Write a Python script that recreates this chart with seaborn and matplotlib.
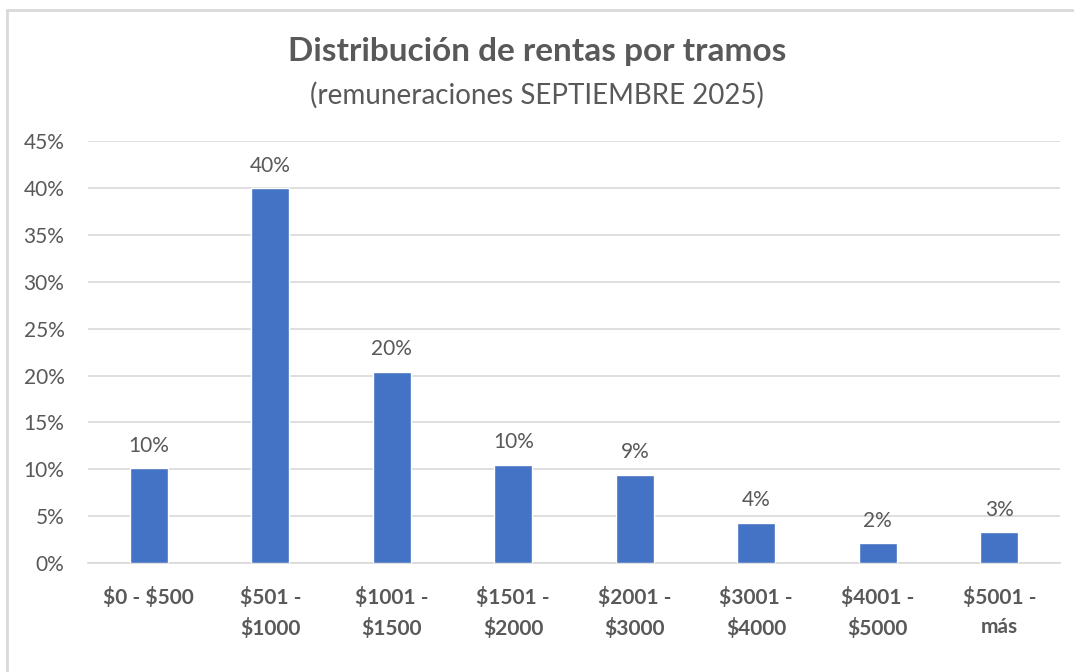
import matplotlib
matplotlib.use("Agg")
import matplotlib.pyplot as plt
import seaborn as sns
import pandas as pd
from matplotlib.ticker import PercentFormatter
from matplotlib.lines import Line2D

# datos
tramos = ["$0 - $500", "$501 -\n$1000", "$1001 -\n$1500", "$1501 -\n$2000",
          "$2001 -\n$3000", "$3001 -\n$4000", "$4001 -\n$5000", "$5001 -\nmás"]
porcentajes = [0.101, 0.400, 0.204, 0.105, 0.094, 0.043, 0.021, 0.033]
etiquetas = ["10%", "40%", "20%", "10%", "9%", "4%", "2%", "3%"]

df = pd.DataFrame({"tramo": tramos, "pct": porcentajes})

sns.set_style("white")
plt.rcParams["font.family"] = ["Lato", "DejaVu Sans"]
plt.rcParams["text.parse_math"] = False
gris = "#595959"

fig = plt.figure(figsize=(10.74, 6.72), dpi=100)
ax = fig.add_axes([0.082, 0.162, 0.905, 0.628])

sns.barplot(data=df, x="tramo", y="pct", color="#4472C4", width=0.31,
            saturation=1, ax=ax, zorder=3)

ax.set_ylim(0, 0.45)
ax.set_xlim(-0.5, len(tramos) - 0.5)
ax.set_yticks([i * 0.05 for i in range(10)])
ax.yaxis.set_major_formatter(PercentFormatter(1.0, decimals=0))
ax.grid(axis="y", color="#d9d9d9", linewidth=1.2, zorder=0)
for s in ["top", "right", "left"]:
    ax.spines[s].set_visible(False)
ax.spines["bottom"].set_color("#d9d9d9")
ax.spines["bottom"].set_linewidth(1.2)
ax.tick_params(axis="y", labelsize=15, labelcolor=gris, length=0, pad=17)
ax.tick_params(axis="x", labelsize=15, labelcolor=gris, length=0, pad=17)
for lbl in ax.get_xticklabels():
    lbl.set_fontweight("bold")
    lbl.set_linespacing(1.6)
ax.set_xlabel("")
ax.set_ylabel("")

for i, (v, t) in enumerate(zip(porcentajes, etiquetas)):
    ax.annotate(t, (i, v), xytext=(0, 9), textcoords="offset points",
                ha="center", va="bottom", fontsize=15, color=gris)

fig.text(0.5, 0.923, "Distribución de rentas por tramos", ha="center", va="center",
         fontsize=24, fontweight="bold", color=gris)
fig.text(0.5, 0.858, "(remuneraciones SEPTIEMBRE 2025)", ha="center", va="center",
         fontsize=20, color=gris)

# marco del gráfico (solo arriba e izquierda visibles)
fig.add_artist(Line2D([0.0065, 1.0], [0.985, 0.985], transform=fig.transFigure,
                      color="#d9d9d9", linewidth=2))
fig.add_artist(Line2D([0.0065, 0.0065], [0.0, 0.985], transform=fig.transFigure,
                      color="#d9d9d9", linewidth=2))

fig.savefig("out.png", dpi=100)
